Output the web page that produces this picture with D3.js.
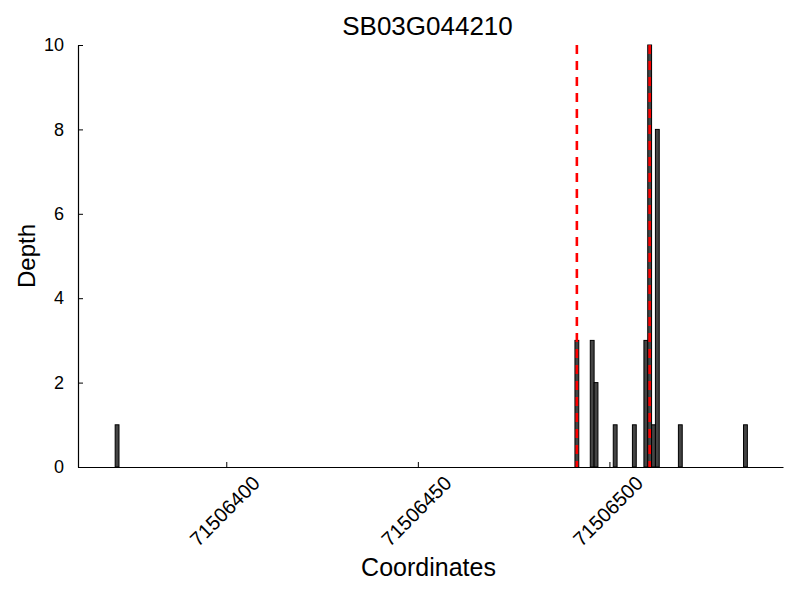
<!DOCTYPE html>
<html>
<head>
<meta charset="utf-8">
<script src="https://cdn.jsdelivr.net/npm/d3@7"></script>
<style>
  body { margin: 0; background: #fff; }
  svg { display: block; font-family: "Liberation Sans", Arial, sans-serif; }
</style>
</head>
<body>
<svg id="chart" width="800" height="600"></svg>
<script>
// ---- data ----
const title = "SB03G044210";
const coordinates = [71506371, 71506491, 71506495, 71506496, 71506501, 71506506, 71506509, 71506510, 71506511, 71506512, 71506518, 71506535];
const depths      = [1,        3,        3,        2,        1,        1,        3,        10,       1,        8,        1,        1];
const markerPositions = [71506491, 71506510];
const xTickValues = [71506400, 71506450, 71506500];
const yTickValues = [0, 2, 4, 6, 8, 10];
const xLabel = "Coordinates";
const yLabel = "Depth";

// ---- layout ----
(function () {
const svg = d3.select("#chart");
const mLeft = 78, mRight = 783, mTop = 45, mBottom = 467;

const x = d3.scaleLinear().domain([71506361.3, 71506545.3]).range([mLeft, mRight]);
const y = d3.scaleLinear().domain([0, 10]).range([mBottom, mTop]);

// bars
const data = coordinates.map((c, i) => ({c, d: depths[i]}));
svg.append("g").selectAll("rect").data(data).join("rect")
  .attr("x", d => x(d.c))
  .attr("width", d => x(d.c + 1) - x(d.c))
  .attr("y", d => y(d.d))
  .attr("height", d => y(0) - y(d.d))
  .attr("fill", "#444444")
  .attr("stroke", "#000")
  .attr("stroke-width", 1);

// red dashed marker lines
svg.append("g").selectAll("line").data(markerPositions).join("line")
  .attr("x1", d => x(d + 0.5)).attr("x2", d => x(d + 0.5))
  .attr("y1", y(10)).attr("y2", y(0))
  .attr("stroke", "#ff0000")
  .attr("stroke-width", 2.6)
  .attr("stroke-dasharray", "9,7");

// x axis
const xAxis = d3.axisBottom(x).tickValues(xTickValues).tickSizeInner(-5).tickSizeOuter(0).tickFormat(d3.format("d"));
const gx = svg.append("g").attr("transform", `translate(0,${mBottom})`).call(xAxis);
gx.select(".domain").attr("stroke", "#000").attr("stroke-width", 1.2);
gx.selectAll(".tick line").attr("stroke", "#000");
gx.selectAll(".tick text")
  .attr("font-size", 20)
  .attr("fill", "#000")
  .attr("text-anchor", "middle")
  .attr("dy", "0.35em")
  .attr("y", 0)
  .attr("transform", "translate(-2,44) rotate(-45)");

// y axis
const yAxis = d3.axisLeft(y).tickValues(yTickValues).tickSizeInner(-5).tickSizeOuter(0).tickPadding(14);
const gy = svg.append("g").attr("transform", `translate(${mLeft},0)`).call(yAxis);
gy.select(".domain").attr("stroke", "#000").attr("stroke-width", 1.2);
gy.selectAll(".tick line").attr("stroke", "#000");
gy.selectAll(".tick text").attr("font-size", 18).attr("fill", "#000");

// labels
svg.append("text").attr("x", (mLeft + mRight) / 2 - 3).attr("y", 35)
  .attr("text-anchor", "middle").attr("font-size", 26).text(title);
svg.append("text").attr("x", (mLeft + mRight) / 2 - 2).attr("y", 576)
  .attr("text-anchor", "middle").attr("font-size", 25).text(xLabel);
svg.append("text").attr("transform", `translate(35,${(mTop + mBottom) / 2}) rotate(-90)`)
  .attr("text-anchor", "middle").attr("font-size", 24).text(yLabel);
})();
</script>
</body>
</html>
